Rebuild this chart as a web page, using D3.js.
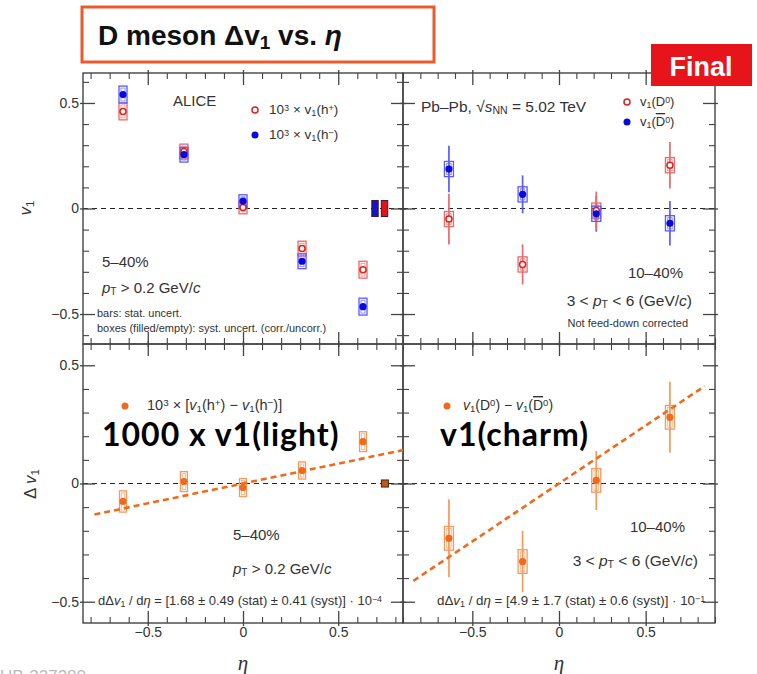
<!DOCTYPE html>
<meta charset="utf-8">
<script src="https://d3js.org/d3.v7.min.js"></script>
<style>
  body { margin: 0; background: #fff; }
  text { font-family: "Liberation Sans", Arial, sans-serif; fill: #333; }
</style>
<body></body>
<script>

// ---- data ----
// top left: 10^3 x v1 of charged hadrons, 5-40%
var etaLight = [-0.63, -0.31, 0, 0.31, 0.63];
var v1hPlus = [0.46, 0.27, 0.005, -0.19, -0.29];
var v1hMinus = [0.54, 0.255, 0.035, -0.25, -0.465];
var systLight = [0.04, 0.035, 0.03, 0.035, 0.04];
var corrBoxEta = [0.693, 0.743];      // filled (correlated) boxes h-, h+
var corrBoxHalf = 0.038;

// top right: v1 of D0 and D0bar, 10-40%
var etaCharm = [-0.635, -0.21, 0.215, 0.64];
var v1D0 = [-0.05, -0.265, -0.01, 0.205];
var v1D0Stat = [0.12, 0.095, 0.09, 0.11];
var v1D0bar = [0.187, 0.067, -0.025, -0.07];
var v1D0barStat = [0.11, 0.09, 0.085, 0.105];
var systCharm = [0.036, 0.036, 0.036, 0.036];

// bottom left: 10^3 x [v1(h+) - v1(h-)]
var dv1Light = [-0.076, 0.008, -0.017, 0.055, 0.177];
var dv1LightSyst = [0.045, 0.042, 0.038, 0.036, 0.042];
var corrBoxLight = 0.745;
var slopeLight = 0.168;
var fitRangeLight = [-0.78, 0.84];

// bottom right: v1(D0) - v1(D0bar)
var dv1Charm = [-0.232, -0.33, 0.013, 0.28];
var dv1CharmStat = [0.165, 0.13, 0.125, 0.15];
var dv1CharmSyst = [0.05, 0.05, 0.05, 0.05];
var slopeCharm = 0.49;
var fitRangeCharm = [-0.84, 0.84];

var majorTicks = [-0.5, 0, 0.5];

// ---- layout ----
var svg = d3.select("body").append("svg")
  .attr("width", 757)
  .attr("height", 674);

var xL = d3.scaleLinear().domain([-0.84, 0.84]).range([83, 403]);
var xR = d3.scaleLinear().domain([-0.9, 0.9]).range([403, 715]);
var yT = d3.scaleLinear().domain([-0.642, 0.642]).range([344, 73]);
var yB = d3.scaleLinear().domain([-0.59, 0.59]).range([623, 344]);

var panels = [
  {x: xL, y: yT, labY: true, labX: false},
  {x: xR, y: yT, labY: false, labX: false},
  {x: xL, y: yB, labY: true, labX: true},
  {x: xR, y: yB, labY: false, labX: true}
];

var red = "#e0201c", redLight = "#e86a6a";
var blue = "#0a0ad8", blueLight = "#5a5aff";
var orange = "#f06a1e", orangeLight = "#f39a5c";

var fmt = function(d) { return d === 0 ? "0" : d3.format(".1f")(d); };

// small rich text helper: _{sub} ^{sup} ~{italic} !{overline}
function rich(sel, s) {
  var re = /([_^~!])\{([^}]*)\}/g, last = 0, m;
  while ((m = re.exec(s))) {
    if (m.index > last) sel.append("tspan").text(s.slice(last, m.index));
    var t = sel.append("tspan").text(m[2]);
    if (m[1] == "_") t.attr("baseline-shift", "-22%").attr("font-size", "68%");
    if (m[1] == "^") t.attr("baseline-shift", "38%").attr("font-size", "68%");
    if (m[1] == "~") t.attr("font-style", "italic");
    if (m[1] == "!") t.style("text-decoration", "overline");
    last = re.lastIndex;
  }
  if (last < s.length) sel.append("tspan").text(s.slice(last));
  return sel;
}

function label(x, y, s, size, anchor) {
  var t = svg.append("text")
    .attr("x", x).attr("y", y)
    .attr("font-size", size)
    .attr("text-anchor", anchor || "start");
  return rich(t, s);
}

function minorTicks(sc) {
  var d = sc.domain();
  return d3.range(Math.ceil(d[0] * 10), Math.floor(d[1] * 10) + 1)
    .filter(function(i) { return i % 5 != 0; })
    .map(function(i) { return i / 10; });
}

// ---- frames, ticks, zero lines ----
panels.forEach(function(p) {
  var x0 = p.x.range()[0], x1 = p.x.range()[1];
  var y0 = p.y.range()[1], y1 = p.y.range()[0];

  svg.append("line")
    .attr("x1", x0).attr("x2", x1)
    .attr("y1", p.y(0)).attr("y2", p.y(0))
    .attr("stroke", "#222")
    .attr("stroke-width", 1.2)
    .attr("stroke-dasharray", "5,4");

  var sides = [
    {ax: d3.axisLeft(p.y), t: "translate(" + x0 + ",0)", lab: p.labY, a: "x1", o: -3, minor: minorTicks(p.y)},
    {ax: d3.axisRight(p.y), t: "translate(" + x1 + ",0)", lab: false, a: "x1", o: 3, minor: minorTicks(p.y)},
    {ax: d3.axisBottom(p.x), t: "translate(0," + y1 + ")", lab: p.labX, a: "y1", o: 3, minor: minorTicks(p.x)},
    {ax: d3.axisTop(p.x), t: "translate(0," + y0 + ")", lab: false, a: "y1", o: -3, minor: minorTicks(p.x)}
  ];

  sides.forEach(function(s) {
    var g = svg.append("g").attr("transform", s.t)
      .call(s.ax.tickValues(s.minor).tickSize(-6).tickFormat(""));
    g.select(".domain").remove();
    g.selectAll("line").attr("stroke", "#444").attr("stroke-width", 1.1);

    var gm = svg.append("g").attr("transform", s.t)
      .call(s.ax.tickValues(majorTicks).tickSize(-12).tickPadding(4)
        .tickFormat(s.lab ? fmt : ""));
    gm.select(".domain").remove();
    gm.selectAll("line").attr(s.a, s.o).attr("stroke", "#444").attr("stroke-width", 1.3);
    gm.attr("font-size", 14).attr("font-family", "Liberation Sans, Arial, sans-serif");
    gm.selectAll("text").attr("fill", "#333");
  });

  svg.append("rect")
    .attr("x", x0).attr("y", y0)
    .attr("width", x1 - x0).attr("height", y1 - y0)
    .attr("fill", "none")
    .attr("stroke", "#444")
    .attr("stroke-width", 1.4);
});

// syst box with inner outline
function sysBoxes(xs, ys, eta, vals, syst, w, col) {
  var g = svg.append("g");
  g.selectAll(".outer").data(vals).enter().append("rect")
    .attr("x", function(d, i) { return xs(eta[i]) - w / 2; })
    .attr("y", function(d, i) { return ys(d + syst[i]); })
    .attr("width", w)
    .attr("height", function(d, i) { return ys(d - syst[i]) - ys(d + syst[i]); })
    .attr("fill", "none").attr("stroke", col).attr("stroke-width", 1.3);
  g.selectAll(".inner").data(vals).enter().append("rect")
    .attr("x", function(d, i) { return xs(eta[i]) - w / 4; })
    .attr("y", function(d, i) { return ys(d + syst[i]) + 2; })
    .attr("width", w / 2)
    .attr("height", function(d, i) { return Math.max(0, ys(d - syst[i]) - ys(d + syst[i]) - 4); })
    .attr("fill", "none").attr("stroke", col).attr("stroke-width", 0.8).attr("opacity", 0.8);
}

function statBars(xs, ys, eta, vals, stat, col) {
  svg.append("g").selectAll("line").data(vals).enter().append("line")
    .attr("x1", function(d, i) { return xs(eta[i]); })
    .attr("x2", function(d, i) { return xs(eta[i]); })
    .attr("y1", function(d, i) { return ys(d - stat[i]); })
    .attr("y2", function(d, i) { return ys(d + stat[i]); })
    .attr("stroke", col).attr("stroke-width", 1.7);
}

function markers(xs, ys, eta, vals, col, open) {
  svg.append("g").selectAll("circle").data(vals).enter().append("circle")
    .attr("cx", function(d, i) { return xs(eta[i]); })
    .attr("cy", function(d) { return ys(d); })
    .attr("r", open ? 3 : 3.6)
    .attr("fill", open ? "#fff" : col)
    .attr("stroke", col)
    .attr("stroke-width", open ? 1.5 : 0);
}

function fitLine(xs, ys, slope, range) {
  svg.append("line")
    .attr("x1", xs(range[0])).attr("y1", ys(slope * range[0]))
    .attr("x2", xs(range[1])).attr("y2", ys(slope * range[1]))
    .attr("stroke", orange).attr("stroke-width", 2.6)
    .attr("stroke-dasharray", "6,4");
}

// ---- top left ----
sysBoxes(xL, yT, etaLight, v1hPlus, systLight, 8, redLight);
sysBoxes(xL, yT, etaLight, v1hMinus, systLight, 8, blueLight);
markers(xL, yT, etaLight, v1hPlus, red, true);
markers(xL, yT, etaLight, v1hMinus, blue, false);
svg.append("g").selectAll("rect").data(corrBoxEta).enter().append("rect")
  .attr("x", function(d) { return xL(d) - 3.2; })
  .attr("y", yT(corrBoxHalf))
  .attr("width", 6.4)
  .attr("height", yT(-corrBoxHalf) - yT(corrBoxHalf))
  .attr("fill", function(d, i) { return i == 0 ? "#1414c8" : "#e01414"; })
  .attr("stroke", "#3a1a3a").attr("stroke-width", 1);

// ---- top right ----
statBars(xR, yT, etaCharm, v1D0bar, v1D0barStat, blueLight);
statBars(xR, yT, etaCharm, v1D0, v1D0Stat, redLight);
sysBoxes(xR, yT, etaCharm, v1D0, systCharm, 9, redLight);
sysBoxes(xR, yT, etaCharm, v1D0bar, systCharm, 9, blueLight);
markers(xR, yT, etaCharm, v1D0, red, true);
markers(xR, yT, etaCharm, v1D0bar, blue, false);

// ---- bottom left ----
sysBoxes(xL, yB, etaLight, dv1Light, dv1LightSyst, 7, orangeLight);
svg.append("rect")
  .attr("x", xL(corrBoxLight) - 3.5).attr("y", yB(0.015))
  .attr("width", 7).attr("height", yB(-0.015) - yB(0.015))
  .attr("fill", "#c8561a").attr("stroke", "#3a2a1a").attr("stroke-width", 1);
fitLine(xL, yB, slopeLight, fitRangeLight);
markers(xL, yB, etaLight, dv1Light, orange, false);

// ---- bottom right ----
statBars(xR, yB, etaCharm, dv1Charm, dv1CharmStat, orangeLight);
sysBoxes(xR, yB, etaCharm, dv1Charm, dv1CharmSyst, 9, orangeLight);
fitLine(xR, yB, slopeCharm, fitRangeCharm);
markers(xR, yB, etaCharm, dv1Charm, orange, false);

// ---- legends and annotations ----
label(173, 106, "ALICE", 15);
svg.append("circle").attr("cx", 255).attr("cy", 110).attr("r", 3).attr("fill", "#fff").attr("stroke", red).attr("stroke-width", 1.5);
label(269, 114, "10^{3} × v_{1}(h^{+})", 13.5);
svg.append("circle").attr("cx", 255).attr("cy", 135).attr("r", 3.5).attr("fill", blue);
label(269, 139, "10^{3} × v_{1}(h^{−})", 13.5);
label(102, 267, "5–40%", 15);
label(102, 293, "~{p}_{T} > 0.2 GeV/~{c}", 15);
label(97, 317, "bars: stat. uncert.", 11);
label(97, 332, "boxes (filled/empty): syst. uncert. (corr./uncorr.)", 11);

label(421, 112, "Pb–Pb, √~{s}_{NN} = 5.02 TeV", 15.5);
svg.append("circle").attr("cx", 627).attr("cy", 102).attr("r", 3).attr("fill", "#fff").attr("stroke", red).attr("stroke-width", 1.5);
label(640, 106, "v_{1}(D^{0})", 13);
svg.append("circle").attr("cx", 627).attr("cy", 122).attr("r", 3.5).attr("fill", blue);
label(640, 126, "v_{1}(!{D}^{0})", 13);
label(683, 278, "10–40%", 15, "end");
label(692, 306, "3 < ~{p}_{T} < 6 (GeV/~{c})", 15.5, "end");
label(688, 327, "Not feed-down corrected", 11, "end");

svg.append("circle").attr("cx", 125).attr("cy", 406).attr("r", 3.5).attr("fill", orange);
label(147, 410, "10^{3} ×  [~{v}_{1}(h^{+}) − ~{v}_{1}(h^{−})]", 14.5);
label(233, 540, "5–40%", 15);
label(233, 574, "~{p}_{T} > 0.2 GeV/~{c}", 15);
label(98, 605, "dΔ~{v}_{1} / d~{η} = [1.68 ± 0.49 (stat) ± 0.41 (syst)] · 10^{−4}", 13);

svg.append("circle").attr("cx", 447).attr("cy", 406).attr("r", 3.5).attr("fill", orange);
label(463, 410, "~{v}_{1}(D^{0}) − ~{v}_{1}(!{D}^{0})", 14);
label(685, 532, "10–40%", 15, "end");
label(698, 566, "3 < ~{p}_{T} < 6 (GeV/~{c})", 15.5, "end");
label(437, 605, "dΔ~{v}_{1} / d~{η} = [4.9 ± 1.7 (stat) ± 0.6 (syst)] · 10^{−1}", 13.3);

// overlay notes
svg.append("text").attr("x", 102).attr("y", 446)
  .attr("font-size", 32).attr("font-weight", "bold")
  .attr("letter-spacing", 1)
  .style("font-family", "Lato, sans-serif").style("fill", "#000")
  .text("1000 x v1(light)");
svg.append("text").attr("x", 440).attr("y", 446)
  .attr("font-size", 32).attr("font-weight", "bold")
  .attr("letter-spacing", 1)
  .style("font-family", "Lato, sans-serif").style("fill", "#000")
  .text("v1(charm)");

// axis titles
rich(svg.append("text").attr("transform", "translate(31,208) rotate(-90)")
  .attr("font-size", 17).attr("text-anchor", "middle"), "~{v}_{1}");
rich(svg.append("text").attr("transform", "translate(36,484) rotate(-90)")
  .attr("font-size", 17).attr("text-anchor", "middle"), "Δ ~{v}_{1}");
[xL, xR].forEach(function(sc) {
  svg.append("text").attr("x", sc(0)).attr("y", 670)
    .attr("font-size", 21).attr("text-anchor", "middle")
    .attr("font-style", "italic")
    .style("font-family", "Liberation Serif, serif")
    .text("η");
});

// watermark, mostly cut off at bottom like in the slide
svg.append("text").attr("x", 0).attr("y", 682)
  .attr("font-size", 17).style("fill", "#bbb").text("UB-337380");

// ---- title box and stamp ----
svg.append("rect").attr("x", 82).attr("y", 7).attr("width", 352).attr("height", 55)
  .attr("fill", "#fff").attr("stroke", "#ec5a2a").attr("stroke-width", 3);
var title = svg.append("text").attr("x", 98).attr("y", 45)
  .attr("font-size", 28).attr("font-weight", "bold").style("fill", "#111");
rich(title, "D meson Δv_{1} vs. ~{η}");

svg.append("rect").attr("x", 651).attr("y", 44).attr("width", 101).attr("height", 42)
  .attr("fill", "#e8141c");
svg.append("text").attr("x", 701).attr("y", 76)
  .attr("font-size", 27).attr("font-weight", "bold").attr("text-anchor", "middle")
  .style("fill", "#fff").text("Final");

</script>
